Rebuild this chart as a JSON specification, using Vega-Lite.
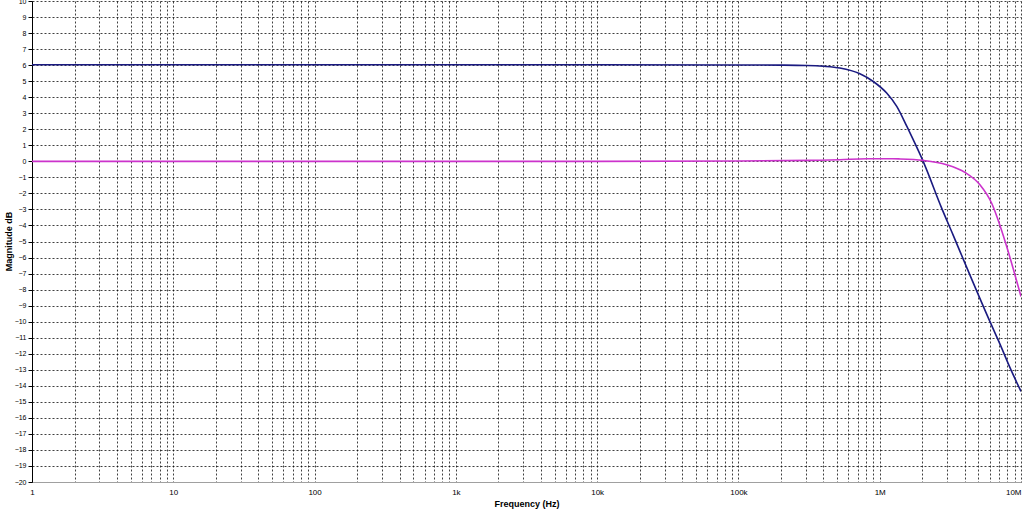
{
  "$schema": "https://vega.github.io/schema/vega-lite/v6.json",
  "width": 989,
  "height": 481,
  "autosize": {"type": "none"},
  "padding": {"left": 32, "top": 1, "right": 3, "bottom": 29},
  "background": "white",
  "config": {
    "view": {"stroke": null},
    "axis": {"labelFont": "Liberation Sans", "titleFont": "Liberation Sans", "labelColor": "#000", "titleColor": "#000"}
  },
  "data": {
    "values": [
      {"series": "V1", "freq": 1, "db": 6.02},
      {"series": "V1", "freq": 10, "db": 6.02},
      {"series": "V1", "freq": 100, "db": 6.02},
      {"series": "V1", "freq": 1000, "db": 6.02},
      {"series": "V1", "freq": 10000, "db": 6.02},
      {"series": "V1", "freq": 100000, "db": 6.01},
      {"series": "V1", "freq": 200000, "db": 6.0},
      {"series": "V1", "freq": 304000, "db": 5.98},
      {"series": "V1", "freq": 400000, "db": 5.93},
      {"series": "V1", "freq": 523000, "db": 5.82},
      {"series": "V1", "freq": 724000, "db": 5.46},
      {"series": "V1", "freq": 900000, "db": 4.98},
      {"series": "V1", "freq": 1120000, "db": 4.26},
      {"series": "V1", "freq": 1320000, "db": 3.43},
      {"series": "V1", "freq": 1560000, "db": 2.16},
      {"series": "V1", "freq": 1726000, "db": 1.35},
      {"series": "V1", "freq": 2030000, "db": 0.0},
      {"series": "V1", "freq": 2740000, "db": -2.9},
      {"series": "V1", "freq": 3310000, "db": -4.6},
      {"series": "V1", "freq": 4120000, "db": -6.6},
      {"series": "V1", "freq": 6030000, "db": -10.0},
      {"series": "V1", "freq": 7100000, "db": -11.4},
      {"series": "V1", "freq": 8340000, "db": -12.85},
      {"series": "V1", "freq": 10000000, "db": -14.35},
      {"series": "V2", "freq": 1, "db": 0.0},
      {"series": "V2", "freq": 10, "db": 0.0},
      {"series": "V2", "freq": 100, "db": 0.0},
      {"series": "V2", "freq": 1000, "db": 0.0},
      {"series": "V2", "freq": 10000, "db": 0.0},
      {"series": "V2", "freq": 100000, "db": 0.02},
      {"series": "V2", "freq": 321000, "db": 0.06},
      {"series": "V2", "freq": 523000, "db": 0.1},
      {"series": "V2", "freq": 808000, "db": 0.16},
      {"series": "V2", "freq": 1240000, "db": 0.16},
      {"series": "V2", "freq": 1390000, "db": 0.15},
      {"series": "V2", "freq": 2030000, "db": 0.06},
      {"series": "V2", "freq": 2970000, "db": -0.21},
      {"series": "V2", "freq": 4010000, "db": -0.69},
      {"series": "V2", "freq": 5120000, "db": -1.46},
      {"series": "V2", "freq": 6190000, "db": -2.6},
      {"series": "V2", "freq": 7100000, "db": -4.0},
      {"series": "V2", "freq": 7910000, "db": -5.3},
      {"series": "V2", "freq": 8810000, "db": -6.7},
      {"series": "V2", "freq": 10000000, "db": -8.43}
    ]
  },
  "mark": {"type": "line", "strokeWidth": 1.6, "clip": true, "interpolate": "monotone"},
  "encoding": {
    "x": {
      "field": "freq",
      "type": "quantitative",
      "scale": {"type": "log", "domain": [1, 10000000], "nice": false},
      "axis": {
        "title": "Frequency (Hz)",
        "titleFontSize": 9,
        "titleFontWeight": "bold",
        "titlePadding": 3,
        "values": [1,2,3,4,5,6,7,8,9,10,20,30,40,50,60,70,80,90,100,200,300,400,500,600,700,800,900,1000,2000,3000,4000,5000,6000,7000,8000,9000,10000,20000,30000,40000,50000,60000,70000,80000,90000,100000,200000,300000,400000,500000,600000,700000,800000,900000,1000000,2000000,3000000,4000000,5000000,6000000,7000000,8000000,9000000,10000000],
        "labelExpr": "datum.value == 1 ? '1' : datum.value == 10 ? '10' : datum.value == 100 ? '100' : datum.value == 1000 ? '1k' : datum.value == 10000 ? '10k' : datum.value == 100000 ? '100k' : datum.value == 1000000 ? '1M' : datum.value == 10000000 ? '10M' : ''",
        "labelAlign": {"condition": {"test": "datum.value >= 9999999", "value": "right"}, "value": "center"},
        "labelOverlap": false,
        "labelBound": false,
        "labelFlush": false,
        "labelFontSize": 8,
        "labelPadding": 6,
        "ticks": false,
        "domainColor": "#a0a0a0",
        "domainWidth": 1,
        "grid": true,
        "gridColor": "#000000",
        "gridDash": [2, 2],
        "gridOpacity": 0.75,
        "gridWidth": 1
      }
    },
    "y": {
      "field": "db",
      "type": "quantitative",
      "scale": {"domain": [-20, 10], "nice": false, "zero": false},
      "axis": {
        "title": "Magnitude dB",
        "titleFontSize": 9,
        "titleFontWeight": "bold",
        "titleAngle": -90,
        "titleX": -24,
        "titleY": 240,
        "titleAlign": "center",
        "titleBaseline": "middle",
        "values": [-20,-19,-18,-17,-16,-15,-14,-13,-12,-11,-10,-9,-8,-7,-6,-5,-4,-3,-2,-1,0,1,2,3,4,5,6,7,8,9,10],
        "labelFontSize": 7,
        "labelPadding": 2,
        "labelOverlap": false,
        "labelBound": false,
        "labelFlush": false,
        "tickSize": 4,
        "tickColor": "#000",
        "domainColor": "#000",
        "grid": true,
        "gridColor": "#000000",
        "gridDash": [2, 2],
        "gridOpacity": 0.75,
        "gridWidth": 1
      }
    },
    "color": {
      "field": "series",
      "type": "nominal",
      "scale": {"domain": ["V1", "V2"], "range": ["#1a1a80", "#cc33cc"]},
      "legend": null
    }
  }
}
